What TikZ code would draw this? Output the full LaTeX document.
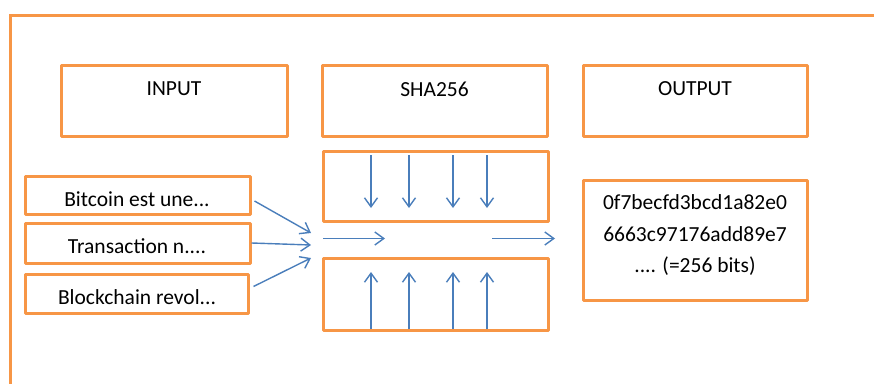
\documentclass[tikz,border=0pt]{standalone}
\usepackage{fontspec}
\setmainfont{Carlito}
\usetikzlibrary{arrows.meta}
\definecolor{orng}{HTML}{F79646}
\definecolor{blu}{HTML}{4A7EBB}
\begin{document}
\begin{tikzpicture}[x=1pt,y=-1pt,
  box/.style={draw=orng,line width=3pt,inner sep=0pt,rectangle,line join=round},
  lbl/.style={font=\fontsize{21.5}{26}\selectfont,text=black,inner sep=0pt},
  arr/.style={draw=blu,line width=1.4pt,-{Straight Barb[length=9pt,width=13pt,line width=1.4pt]}}]
\useasboundingbox (0,0) rectangle (874,383);
% outer frame
\coordinate (fa) at (10.5,390);
\coordinate (fb) at (10.5,15);
\coordinate (fc) at (880,15);
\draw[orng,line width=3pt] (fa) -- (fb) -- (fc);
% header boxes
\node[box,minimum width=226pt,minimum height=71pt] (inbox) at (174,100.5) {};
\node[lbl] (intext) at (174,89) {INPUT};
\node[box,minimum width=225pt,minimum height=71pt] (shabox) at (434.5,100.5) {};
\node[lbl] (shatext) at (434.5,89) {SHA256};
\node[box,minimum width=224pt,minimum height=71pt] (outbox) at (695,100.5) {};
\node[lbl] (outtext) at (695,89) {OUTPUT};
% input boxes
\node[box,minimum width=225pt,minimum height=38pt] (b1) at (137.5,195) {};
\node[lbl] (b1t) at (137,199) {Bitcoin est une...};
\node[box,minimum width=225pt,minimum height=40pt] (b2) at (137.5,243) {};
\node[lbl] (b2t) at (137,246.5) {Transaction n....};
\node[box,minimum width=223pt,minimum height=39pt] (b3) at (136.5,293.5) {};
\node[lbl] (b3t) at (137,297) {Blockchain revol...};
% sha boxes
\node[box,minimum width=225pt,minimum height=70pt] (st) at (435.5,186) {};
\node[box,minimum width=225pt,minimum height=72pt] (sb) at (435.5,294) {};
% output box
\node[box,minimum width=224pt,minimum height=120pt] (res) at (695,240) {};
\node[lbl,align=center,font=\fontsize{21.5}{31.5}\selectfont] (rest) at (695,235.5) {0f7becfd3bcd1a82e0\\6663c97176add89e7\\.... (=256 bits)};
% converging arrows
\coordinate (m1) at (311,233);
\coordinate (m2) at (311,245);
\coordinate (m3) at (311,258);
\draw[arr] ([xshift=3pt,yshift=-6pt]b1.east) -- (m1);
\draw[arr] (b2.east) -- (m2);
\draw[arr] ([xshift=4pt,yshift=7pt]b3.east) -- (m3);
% horizontal arrows
\coordinate (h1a) at (323,238.5);
\coordinate (h1b) at (385,238.5);
\coordinate (h2a) at (492,238.5);
\coordinate (h2b) at (555,238.5);
\draw[arr] (h1a) -- (h1b);
\draw[arr] (h2a) -- (h2b);
% down / up arrows
\foreach \x in {371,409,453,487}{
  \draw[arr] (\x,155) -- (\x,208);
  \draw[arr] (\x,329) -- (\x,272);
}
\end{tikzpicture}
\end{document}
